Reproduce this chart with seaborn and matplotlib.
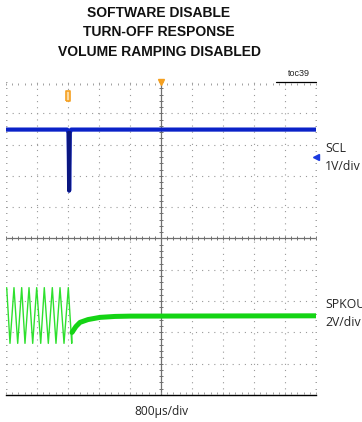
import numpy as np
import pandas as pd
import seaborn as sns
import matplotlib.pyplot as plt

# === Data (time in us, amplitude in screen divisions) ===
scl_t = [-4000, -2420, -2385, -2370, -2355, -2320, 4000]
scl_v = [3.48, 3.48, 3.38, 1.53, 3.38, 3.48, 3.48]

spk_t = [-3982, -3897, -3794, -3698, -3595, -3510, -3406, -3311, -3208, -3104,
         -3012, -2908, -2805, -2710, -2606, -2503, -2392, -2304,
         -2297, -2194, -2090, -1884, -1574, -1187, -800, 4000]
spk_v = [-1.57, -3.35, -1.57, -3.35, -1.57, -3.35, -1.57, -3.35, -1.57, -3.35,
         -1.57, -3.35, -1.57, -3.35, -1.57, -3.35, -1.57, -3.35,
         -3.00, -2.81, -2.68, -2.59, -2.52, -2.49, -2.48, -2.47]

title_lines = ["SOFTWARE DISABLE", "TURN-OFF RESPONSE", "VOLUME RAMPING DISABLED"]
ch_labels = [("SCL", "1V/div"), ("SPKOUT", "2V/div")]
x_label = "800\u00b5s/div"

scl = pd.DataFrame({"t": scl_t, "v": scl_v})
spk = pd.DataFrame({"t": spk_t, "v": spk_v})

# === Plot ===
sns.set_style("white")
plt.rcParams['font.family'] = ['Liberation Sans Narrow', 'Liberation Sans', 'DejaVu Sans']

fig = plt.figure(figsize=(3.62, 4.22), dpi=100)
ax = fig.add_axes([6 / 362, 27 / 422, 310 / 362, 313 / 422])

ax.set_xlim(-4000, 4000)
ax.set_ylim(-5, 5)

# dotted graticule
for gx in np.arange(-3200, 4000, 800):
    if gx != 0:
        ax.axvline(gx, color="#9a9a9a", lw=0.8, ls=(0, (1, 4.5)), zorder=0)
for gy in np.arange(-4, 5, 1):
    if gy != 0:
        ax.axhline(gy, color="#9a9a9a", lw=0.8, ls=(0, (1, 4.5)), zorder=0)

# center cross with minor ticks
ax.axvline(0, color="#707070", lw=0.9, zorder=0)
ax.axhline(0, color="#707070", lw=0.9, zorder=0)
minor_x = np.arange(-4000, 4001, 160)
minor_y = np.arange(-5, 5.01, 0.2)
ax.plot(minor_x, np.zeros_like(minor_x), ls="none", marker="|", ms=3, mew=0.7, color="#707070", zorder=0)
ax.plot(np.zeros_like(minor_y), minor_y, ls="none", marker="_", ms=3, mew=0.7, color="#707070", zorder=0)

# edge ticks
ax.plot(minor_x, np.full_like(minor_x, 4.95, dtype=float), ls="none", marker="|", ms=2, mew=0.6, color="#909090", zorder=0)
ax.plot(minor_x, np.full_like(minor_x, -4.95, dtype=float), ls="none", marker="|", ms=2, mew=0.6, color="#909090", zorder=0)
ax.plot(np.full_like(minor_y, -3990), minor_y, ls="none", marker="_", ms=2, mew=0.6, color="#909090", zorder=0)
ax.plot(np.full_like(minor_y, 3990), minor_y, ls="none", marker="_", ms=2, mew=0.6, color="#909090", zorder=0)
ax.axvline(4000, ymin=0.62, ymax=1.0, color="#909090", lw=0.6)
ax.axvline(4000, ymin=0.0, ymax=0.4, color="#909090", lw=0.6)

# traces
sns.lineplot(data=spk, x="t", y="v", ax=ax, sort=False, estimator=None,
             color="#2ee02e", lw=1.0, zorder=3)
flat = spk[spk["t"] >= -2297]
sns.lineplot(data=flat, x="t", y="v", ax=ax, sort=False, estimator=None,
             color="#14d414", lw=3.6, zorder=3)
sns.lineplot(data=scl, x="t", y="v", ax=ax, sort=False, estimator=None,
             color="#0a22c8", lw=3.0, zorder=4)
dip = scl.iloc[[2, 3, 4]]
sns.lineplot(data=dip, x="t", y="v", ax=ax, sort=False, estimator=None,
             color="#0a1680", lw=2.6, zorder=5)

# markers
trig = [(-1, -2.4), (1, -2.4), (1, 2.4), (-1, 2.4), (-1, -2.4)]
ax.plot([0], [5], marker="v", ms=4, color="#f5a020", clip_on=False, zorder=6)
ax.plot([-2400], [4.55], marker=trig, ms=7, mfc="#fcd9a0", mec="#f5a020", mew=1.2, zorder=6)
ax.plot([4000], [2.6], marker="<", ms=4, color="#1a3ae0", clip_on=False, zorder=6)

for s in ["top", "left", "right"]:
    ax.spines[s].set_visible(False)
ax.spines["bottom"].set_color("black")
ax.spines["bottom"].set_linewidth(1.0)
ax.set_xticks([])
ax.set_yticks([])
ax.set_xlabel("")
ax.set_ylabel("")

# short top rule near toc label
fig.add_artist(plt.Line2D([276 / 362, 316 / 362], [1 - 82 / 422, 1 - 82 / 422], color="black", lw=0.9))

# text
for i, line in enumerate(title_lines):
    fig.text(159 / 362, 1 - (13 + 19.5 * i) / 422, line, ha="center", va="center",
             fontsize=10, fontweight="bold", color="#111111")
fig.text(310 / 362, 1 - 74 / 422, "toc39", ha="right", va="center", fontsize=6.5, color="#222222")
lab_font = ["Open Sans", "DejaVu Sans"]
fig.text(325 / 362, 1 - 148 / 422, ch_labels[0][0], ha="left", va="center", fontsize=8.8, family=lab_font)
fig.text(325 / 362, 1 - 167 / 422, ch_labels[0][1], ha="left", va="center", fontsize=8.8, family=lab_font)
fig.text(325 / 362, 1 - 305 / 422, ch_labels[1][0], ha="left", va="center", fontsize=8.8, family=lab_font)
fig.text(325 / 362, 1 - 323 / 422, ch_labels[1][1], ha="left", va="center", fontsize=8.8, family=lab_font)
fig.text(161 / 362, 1 - 411 / 422, x_label, ha="center", va="center", fontsize=8.6, family=lab_font)

fig.savefig("out.png", dpi=100)
